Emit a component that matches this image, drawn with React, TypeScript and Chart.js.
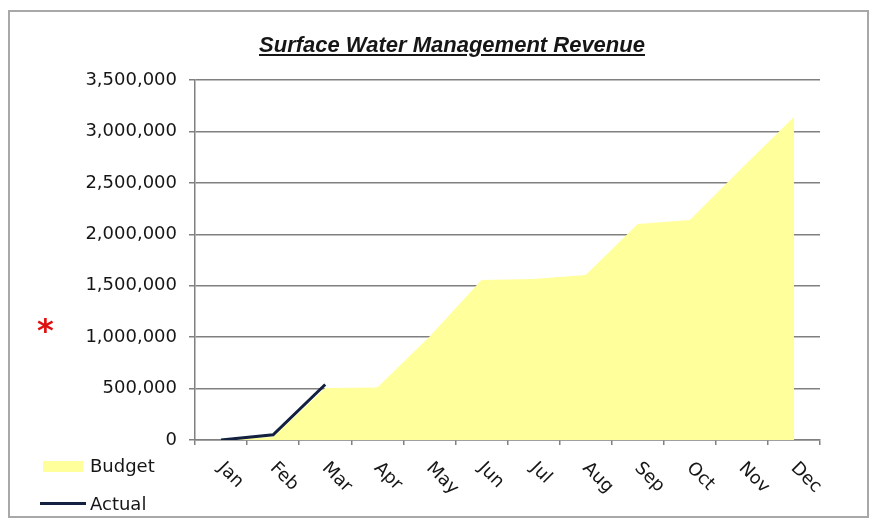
import React, { useEffect, useRef } from "react";
import { Chart, registerables } from "chart.js";

Chart.register(...registerables);

const months = ["Jan", "Feb", "Mar", "Apr", "May", "Jun", "Jul", "Aug", "Sep", "Oct", "Nov", "Dec"];
const budget = [0, 30000, 505000, 510000, 1005000, 1555000, 1565000, 1605000, 2100000, 2140000, 2645000, 3140000];
const actual = [0, 50000, 540000, null, null, null, null, null, null, null, null, null];
const yTicks = [0, 500000, 1000000, 1500000, 2000000, 2500000, 3000000, 3500000];

const TITLE = "Surface Water Management Revenue";
const FONT = "'DejaVu Sans', sans-serif";
const TEXT_COLOR = "#161616";
const GRID = "#808080";
const YELLOW = "#ffff9c";
const NAVY = "#14203f";

const rotatedXLabels = {
  id: "rotatedXLabels",
  afterDraw(chart: any) {
    const xs = chart.scales.x;
    const ctx = chart.ctx;
    ctx.save();
    ctx.font = `18px ${FONT}`;
    ctx.fillStyle = TEXT_COLOR;
    ctx.textAlign = "left";
    ctx.textBaseline = "top";
    months.forEach((m, i) => {
      const x = xs.getPixelForValue(i);
      ctx.save();
      ctx.translate(x + 6, 459);
      ctx.rotate(Math.PI / 4);
      ctx.fillText(m, 0, 0);
      ctx.restore();
    });
    ctx.restore();
  },
};

export default function App() {
  const ref = useRef<HTMLCanvasElement | null>(null);

  useEffect(() => {
    if (!ref.current) return;
    const chart = new Chart(ref.current, {
      type: "line",
      data: {
        labels: months,
        datasets: [
          {
            label: "Actual",
            data: actual,
            borderColor: NAVY,
            borderWidth: 3,
            pointRadius: 0,
            fill: false,
            tension: 0,
            order: 0,
            spanGaps: false,
          },
          {
            label: "Budget",
            data: budget,
            borderColor: YELLOW,
            backgroundColor: YELLOW,
            borderWidth: 0,
            pointRadius: 0,
            fill: "origin",
            tension: 0,
            order: 1,
          },
        ],
      },
      options: {
        animation: false,
        responsive: false,
        layout: { padding: { top: 80, right: 52, left: 0, bottom: 0 } },
        plugins: {
          legend: { display: false },
          tooltip: { enabled: false },
          title: { display: false },
        },
        scales: {
          x: {
            offset: true,
            grid: { offset: true, drawOnChartArea: false, drawTicks: true, tickLength: 5, color: GRID, lineWidth: 1.5 },
            border: { display: true, color: GRID, width: 1.5 },
            ticks: { display: false },
            afterFit: (s: any) => {
              s.height = 78;
            },
          },
          y: {
            min: 0,
            max: 3500000,
            afterBuildTicks: (s: any) => {
              s.ticks = yTicks.map((v) => ({ value: v }));
            },
            grid: { color: GRID, lineWidth: 1.5, tickLength: 6 },
            border: { display: true, color: GRID, width: 1.5 },
            ticks: {
              padding: 12,
              color: TEXT_COLOR,
              font: { family: FONT, size: 18 },
              callback: (v: any) => Number(v).toLocaleString("en-US"),
            },
            afterFit: (s: any) => {
              s.width = 195;
            },
          },
        },
      },
      plugins: [rotatedXLabels],
    });
    return () => chart.destroy();
  }, []);

  return (
    <div style={{ position: "fixed", left: 0, top: 0, width: 872, height: 518, background: "#fff", overflow: "hidden" }}>
      <div
        style={{
          position: "absolute",
          left: 8,
          top: 10,
          width: 857,
          height: 504,
          border: "2px solid #a8a8a8",
        }}
      />
      <canvas ref={ref} width={872} height={518} style={{ position: "absolute", left: 0, top: 0, display: "block" }} />
      <div
        style={{
          position: "absolute",
          left: 452,
          top: 32,
          transform: "translateX(-50%)",
          whiteSpace: "nowrap",
          font: `italic bold 22px 'Liberation Sans', sans-serif`,
          lineHeight: "26px",
          textDecoration: "underline",
          color: TEXT_COLOR,
        }}
      >
        {TITLE}
      </div>
      <div
        style={{
          position: "absolute",
          left: 37,
          top: 314,
          font: `bold 32px ${FONT}`,
          lineHeight: "32px",
          color: "#e01010",
        }}
      >
        *
      </div>
      <div style={{ position: "absolute", left: 43, top: 461, width: 40, height: 11, background: YELLOW }} />
      <div
        style={{
          position: "absolute",
          left: 90,
          top: 457,
          font: `18px ${FONT}`,
          lineHeight: "18px",
          color: TEXT_COLOR,
        }}
      >
        Budget
      </div>
      <div style={{ position: "absolute", left: 40, top: 502, width: 46, height: 3, background: NAVY }} />
      <div
        style={{
          position: "absolute",
          left: 90,
          top: 495,
          font: `18px ${FONT}`,
          lineHeight: "18px",
          color: TEXT_COLOR,
        }}
      >
        Actual
      </div>
    </div>
  );
}
